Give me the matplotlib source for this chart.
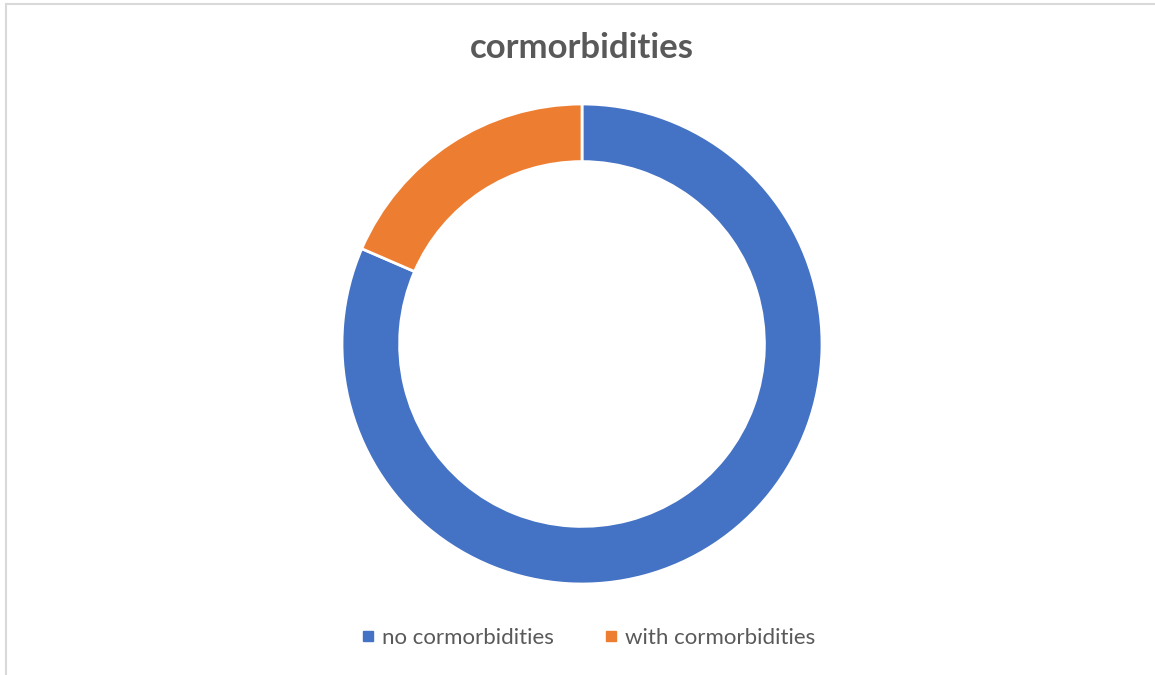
import matplotlib
matplotlib.use("Agg")
import matplotlib.pyplot as plt
from matplotlib.lines import Line2D

labels = ["no cormorbidities", "with cormorbidities"]
values = [81.5, 18.5]
colors = ["#4472C4", "#ED7D31"]

W, H = 1155, 675
fig = plt.figure(figsize=(W / 100, H / 100), dpi=100)
plt.rcParams["font.family"] = ["Lato", "DejaVu Sans"]

# chart-area border (only left and top visible in the crop)
fig.add_artist(Line2D([6 / W, 6 / W], [0, 1 - 4 / H], color="#d9d9d9", lw=1.5))
fig.add_artist(Line2D([6 / W, 1], [1 - 4 / H, 1 - 4 / H], color="#d9d9d9", lw=1.5))

# donut
cx, cy, r = 582, 344, 240
ax = fig.add_axes([(cx - r) / W, 1 - (cy + r) / H, 2 * r / W, 2 * r / H])
ax.pie(values, colors=colors, startangle=90, counterclock=False,
       wedgeprops=dict(width=0.24, edgecolor="white", linewidth=2))
ax.set_xlim(-1, 1); ax.set_ylim(-1, 1)
ax.set_aspect("equal")
ax.axis("off")

fig.text(cx / W, 1 - 48 / H, "cormorbidities", ha="center", va="center",
         fontsize=25, fontweight="bold", color="#595959")

handles = [Line2D([], [], marker="s", ls="none", ms=7, color=c) for c in colors]
fig.legend(handles, labels, loc="center", bbox_to_anchor=(588 / W, 1 - 638 / H),
           ncol=2, frameon=False, fontsize=16, labelcolor="#595959",
           handletextpad=0.3, columnspacing=2.2, handlelength=0.7)

fig.savefig("out.png", dpi=100)
